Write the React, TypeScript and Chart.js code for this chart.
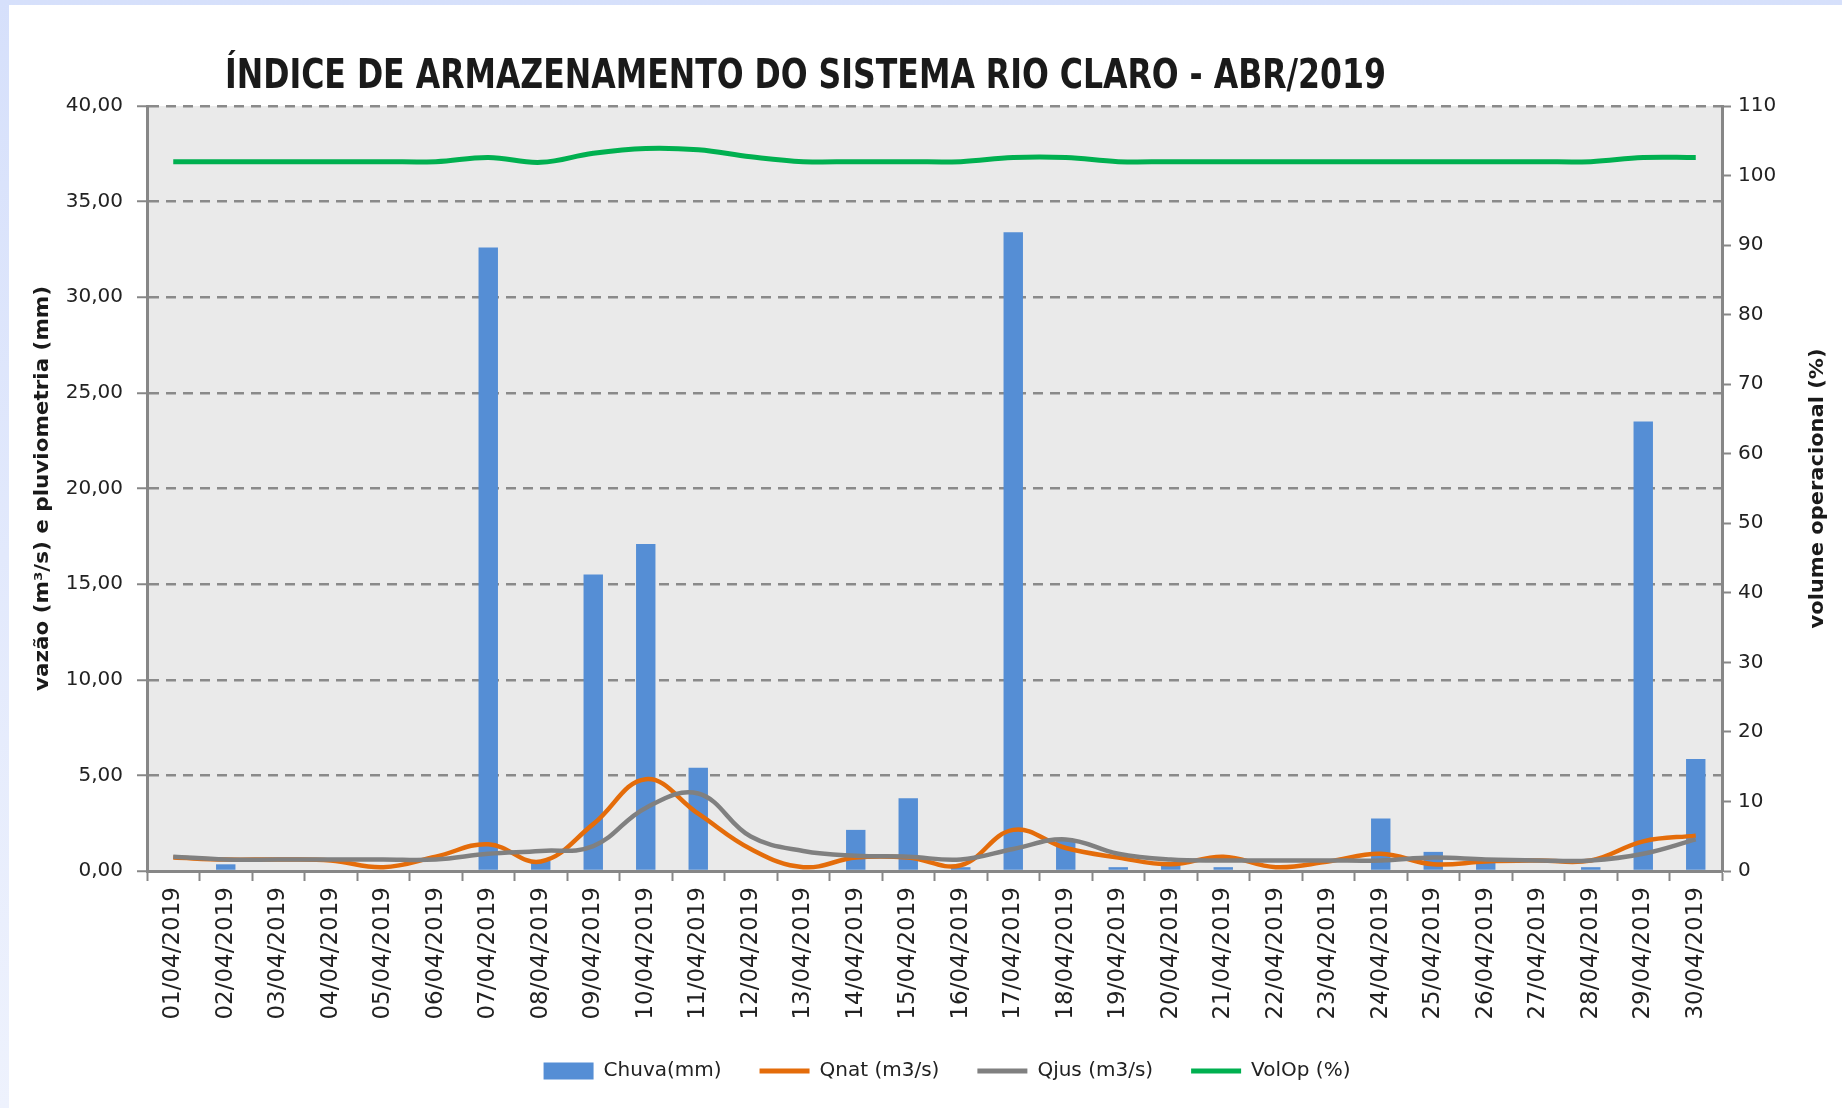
import React, { useEffect, useRef } from 'react';
import { Chart, registerables } from 'chart.js';

Chart.register(...registerables);

const TITLE = 'ÍNDICE DE ARMAZENAMENTO DO SISTEMA RIO CLARO - ABR/2019';
const LEFT_TITLE = 'vazão (m³/s) e pluviometria (mm)';
const RIGHT_TITLE = 'volume operacional (%)';

const dates = [
  '01/04/2019', '02/04/2019', '03/04/2019', '04/04/2019', '05/04/2019', '06/04/2019',
  '07/04/2019', '08/04/2019', '09/04/2019', '10/04/2019', '11/04/2019', '12/04/2019',
  '13/04/2019', '14/04/2019', '15/04/2019', '16/04/2019', '17/04/2019', '18/04/2019',
  '19/04/2019', '20/04/2019', '21/04/2019', '22/04/2019', '23/04/2019', '24/04/2019',
  '25/04/2019', '26/04/2019', '27/04/2019', '28/04/2019', '29/04/2019', '30/04/2019',
];

const chuva = [
  0, 0.35, 0, 0, 0, 0, 32.6, 0.55, 15.5, 17.1, 5.4, 0, 0, 2.15, 3.8,
  0.2, 33.4, 1.6, 0.2, 0.37, 0.2, 0, 0, 2.75, 1.0, 0.5, 0, 0.2, 23.5, 5.85,
];

const qnat = [
  0.7, 0.6, 0.6, 0.55, 0.2, 0.75, 1.4, 0.5, 2.45, 4.8, 3.0, 1.15, 0.2, 0.7, 0.7,
  0.3, 2.15, 1.2, 0.7, 0.35, 0.75, 0.2, 0.5, 0.9, 0.35, 0.5, 0.55, 0.55, 1.55, 1.85,
];

const qjus = [
  0.75, 0.6, 0.6, 0.6, 0.6, 0.6, 0.9, 1.05, 1.3, 3.3, 4.05, 1.8, 1.05, 0.8, 0.75,
  0.6, 1.15, 1.65, 0.9, 0.6, 0.55, 0.55, 0.55, 0.55, 0.7, 0.6, 0.55, 0.55, 0.9, 1.65,
];

const volOp = [
  102, 102, 102, 102, 102, 102, 102.6, 101.9, 103.2, 103.9, 103.7, 102.7, 102.0, 102, 102,
  102, 102.6, 102.6, 102, 102, 102, 102, 102, 102, 102, 102, 102, 102, 102.6, 102.6,
];

const leftTicks = { min: 0, max: 40, step: 5 };
const rightTicks = { min: 0, max: 110, step: 10 };

const AXIS_GRAY = '#878787';
const TEXT = '#222222';
const FONT = '"DejaVu Sans", "Liberation Sans", sans-serif';

function drawRotated(ctx: CanvasRenderingContext2D, text: string, cx: number, cy: number, len: number) {
  ctx.save();
  ctx.font = `bold 19px ${FONT}`;
  ctx.fillStyle = '#1a1a1a';
  const w = ctx.measureText(text).width;
  ctx.translate(cx, cy);
  ctx.rotate(-Math.PI / 2);
  ctx.scale(len / w, 1);
  ctx.textAlign = 'center';
  ctx.textBaseline = 'middle';
  ctx.fillText(text, 0, 0);
  ctx.restore();
}

const textPlugin = {
  id: 'customTexts',
  afterDraw(chart: any) {
    const ctx: CanvasRenderingContext2D = chart.ctx;
    const area = chart.chartArea;
    ctx.save();
    ctx.font = `bold 40px "Liberation Sans Narrow", "DejaVu Sans Condensed", "Liberation Sans", sans-serif`;
    ctx.fillStyle = '#1a1a1a';
    ctx.textBaseline = 'alphabetic';
    ctx.textAlign = 'left';
    const tw = ctx.measureText(TITLE).width;
    ctx.translate(225, area.top - 18);
    ctx.scale(1161 / tw, 1);
    ctx.fillText(TITLE, 0, 0);
    ctx.restore();
    const cy = (area.top + area.bottom) / 2;
    drawRotated(ctx, LEFT_TITLE, area.left - 104, cy, 405);
    drawRotated(ctx, RIGHT_TITLE, area.right + 96, cy, 280);
  },
};

export default function App() {
  const ref = useRef<HTMLCanvasElement>(null);

  useEffect(() => {
    if (!ref.current) return;
    const chart = new Chart(ref.current, {
      data: {
        labels: dates,
        datasets: [
          {
            type: 'bar',
            label: 'Chuva(mm)',
            data: chuva,
            backgroundColor: '#558ED5',
            yAxisID: 'y',
            barPercentage: 0.37,
            categoryPercentage: 1.0,
            order: 3,
          },
          {
            type: 'line',
            label: 'Qnat (m3/s)',
            data: qnat,
            borderColor: '#E46C0A',
            backgroundColor: '#E46C0A',
            borderWidth: 4.5,
            pointRadius: 0,
            tension: 0.4,
            yAxisID: 'y',
            order: 2,
          },
          {
            type: 'line',
            label: 'Qjus (m3/s)',
            data: qjus,
            borderColor: '#808080',
            backgroundColor: '#808080',
            borderWidth: 4.5,
            pointRadius: 0,
            tension: 0.4,
            yAxisID: 'y',
            order: 1,
          },
          {
            type: 'line',
            label: 'VolOp (%)',
            data: volOp,
            borderColor: '#00B050',
            backgroundColor: '#00B050',
            borderWidth: 5,
            pointRadius: 0,
            tension: 0.4,
            yAxisID: 'y1',
            order: 0,
          },
        ],
      },
      options: {
        responsive: false,
        maintainAspectRatio: false,
        animation: false,
        devicePixelRatio: 1,
        layout: { padding: { left: 52, right: 0, top: 106, bottom: 17 } },
        plugins: {
          title: { display: false },
          tooltip: { enabled: false },
          legend: {
            position: 'bottom',
            labels: {
              usePointStyle: true,
              pointStyleWidth: 50,
              boxHeight: 17,
              padding: 38,
              color: TEXT,
              font: { family: FONT, size: 20 },
              sort: (a: any, b: any) => a.datasetIndex - b.datasetIndex,
              generateLabels: (ch: any) => {
                const items = Chart.defaults.plugins.legend.labels.generateLabels(ch);
                return items.map((it: any) => {
                  const ds: any = ch.data.datasets[it.datasetIndex];
                  if (ds.type === 'bar') {
                    it.pointStyle = 'rect';
                    it.lineWidth = 0;
                    it.fillStyle = ds.backgroundColor;
                    it.strokeStyle = ds.backgroundColor;
                  } else {
                    it.pointStyle = 'line';
                    it.lineWidth = 5;
                    it.strokeStyle = ds.borderColor;
                    it.fillStyle = ds.borderColor;
                  }
                  return it;
                });
              },
            },
          },
        },
        scales: {
          x: {
            type: 'category',
            offset: true,
            afterFit: (s: any) => { s.height = 152; },
            grid: {
              display: true,
              drawOnChartArea: false,
              drawTicks: true,
              offset: true,
              tickLength: 10,
              tickColor: AXIS_GRAY,
              tickWidth: 2,
            },
            border: { color: AXIS_GRAY, width: 3 },
            ticks: {
              autoSkip: false,
              minRotation: 90,
              maxRotation: 90,
              padding: 6,
              color: TEXT,
              font: { family: FONT, size: 23 },
            },
          },
          y: {
            position: 'left',
            min: leftTicks.min,
            max: leftTicks.max,
            afterFit: (s: any) => { s.width = 95; },
            ticks: {
              stepSize: leftTicks.step,
              padding: 14,
              color: TEXT,
              font: { family: FONT, size: 20 },
              callback: (v: any) => Number(v).toFixed(2).replace('.', ','),
            },
            grid: {
              color: '#8a8a8a',
              lineWidth: 2.5,
              tickLength: 10,
              tickColor: AXIS_GRAY,
              tickWidth: 2,
              tickBorderDash: [],
            },
            border: { color: AXIS_GRAY, width: 3, dash: [10, 7] },
          },
          y1: {
            position: 'right',
            min: rightTicks.min,
            max: rightTicks.max,
            afterFit: (s: any) => { s.width = 120; },
            ticks: {
              stepSize: rightTicks.step,
              padding: 7,
              color: TEXT,
              font: { family: FONT, size: 20 },
            },
            grid: {
              drawOnChartArea: false,
              tickLength: 9,
              tickColor: AXIS_GRAY,
              tickWidth: 2,
            },
            border: { color: AXIS_GRAY, width: 3 },
          },
        },
      },
      plugins: [
        {
          id: 'plotBg',
          beforeDraw(chart: any) {
            const { ctx, chartArea: a } = chart;
            ctx.save();
            ctx.fillStyle = '#EAEAEA';
            ctx.fillRect(a.left, a.top, a.right - a.left, a.bottom - a.top);
            ctx.restore();
          },
        },
        textPlugin,
      ],
    } as any);
    return () => chart.destroy();
  }, []);

  return (
    <div
      style={{
        position: 'fixed',
        left: 0,
        top: 0,
        width: 1842,
        height: 1108,
        background: 'linear-gradient(180deg, #d6e0fb 0%, #eef2fd 100%)',
        overflow: 'hidden',
      }}
    >
      <div style={{ position: 'absolute', left: 9, top: 5, right: 0, bottom: 0, background: '#ffffff' }} />
      <canvas
        ref={ref}
        width={1842}
        height={1108}
        style={{ position: 'absolute', left: 0, top: 0, width: 1842, height: 1108 }}
      />
    </div>
  );
}
